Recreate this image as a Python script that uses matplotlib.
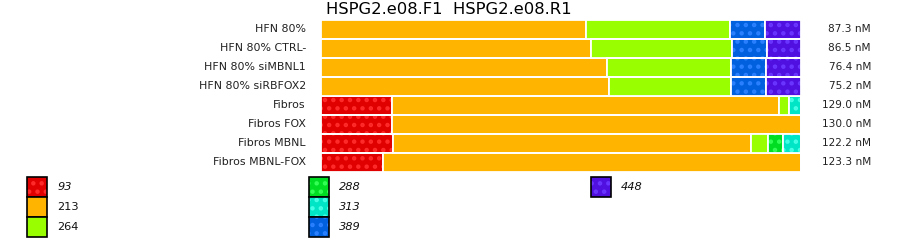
import matplotlib.pyplot as plt
from matplotlib.patches import Rectangle

# samples (top to bottom) and concentration labels
samples = ['HFN 80%', 'HFN 80% CTRL-', 'HFN 80% siMBNL1', 'HFN 80% siRBFOX2',
           'Fibros', 'Fibros FOX', 'Fibros MBNL', 'Fibros MBNL-FOX']
conc = ['87.3 nM', '86.5 nM', '76.4 nM', '75.2 nM',
        '129.0 nM', '130.0 nM', '122.2 nM', '123.3 nM']

# product sizes (legend) and their colours
sizes = ['93', '213', '264', '288', '313', '389', '448']
colors = ['#e00000', '#ffb400', '#99ff00', '#00dd22', '#00e5c5', '#0060dd', '#5010e0']
dots = ['#ff2a2a', None, None, '#33ff55', '#44ffe5', '#2a80ff', '#6a35ff']

# percent of each product per sample
p93 = [0.0, 0.0, 0.0, 0.0, 14.8, 14.8, 15.0, 12.9]
p213 = [55.2, 56.3, 59.6, 60.0, 80.6, 85.2, 74.6, 87.1]
p264 = [30.0, 29.4, 25.8, 25.4, 2.1, 0.0, 3.5, 0.0]
p288 = [0.0, 0.0, 0.0, 0.0, 0.0, 0.0, 3.1, 0.0]
p313 = [0.0, 0.0, 0.0, 0.0, 2.5, 0.0, 3.8, 0.0]
p389 = [7.3, 7.3, 7.3, 7.3, 0.0, 0.0, 0.0, 0.0]
p448 = [7.5, 7.0, 7.3, 7.3, 0.0, 0.0, 0.0, 0.0]
parts = [p93, p213, p264, p288, p313, p389, p448]

plt.rcParams['font.family'] = 'DejaVu Sans'
plt.rcParams['hatch.linewidth'] = 2.0
fig = plt.figure(figsize=(9, 2.42), dpi=100)
ax = fig.add_axes([321 / 900, 1 - 171.5 / 242, 480 / 900, 152 / 242])

y = list(range(len(samples)))
left = [0.0] * len(samples)
for vals, c, d in zip(parts, colors, dots):
    if d:
        ax.barh(y, vals, left=left, height=1, color=c, edgecolor=d,
                hatch='..', linewidth=0)
    else:
        ax.barh(y, vals, left=left, height=1, color=c, linewidth=0)
    ax.barh(y, vals, left=left, height=1, facecolor='none',
            edgecolor='white', linewidth=1.3)
    left = [a + b for a, b in zip(left, vals)]

ax.set_xlim(0, 100)
ax.set_ylim(len(samples) - 0.5, -0.5)
ax.axis('off')

for i, (s, c) in enumerate(zip(samples, conc)):
    ax.text(-15 / 4.8, i, s, ha='right', va='center', fontsize=7.9, color='#222222')
    ax.text(100 + 70 / 4.8, i, c, ha='right', va='center', fontsize=7.6, color='#222222')

fig.text(449 / 900, 1 - 10 / 242, 'HSPG2.e08.F1  HSPG2.e08.R1', ha='center',
         va='center', fontsize=11.8)

# legend drawn by hand: 3 rows per column
col_x = [27, 309, 591]
for k, (lab, c, d) in enumerate(zip(sizes, colors, dots)):
    cx = col_x[k // 3]
    top = 177 + 20 * (k % 3)
    r = Rectangle((cx / 900, 1 - (top + 20) / 242), 20 / 900, 20 / 242,
                  transform=fig.transFigure, facecolor=c,
                  edgecolor=d if d else c, hatch='..' if d else None, linewidth=0)
    fig.patches.append(r)
    fig.patches.append(Rectangle((cx / 900, 1 - (top + 20) / 242), 20 / 900, 20 / 242,
                                 transform=fig.transFigure, facecolor='none',
                                 edgecolor='black', linewidth=1.2))
    fig.text((cx + 30) / 900, 1 - (top + 10) / 242, lab, ha='left', va='center',
             fontsize=8.2, style='italic' if d else 'normal', color='#111111')

fig.savefig('out.png', dpi=100)
